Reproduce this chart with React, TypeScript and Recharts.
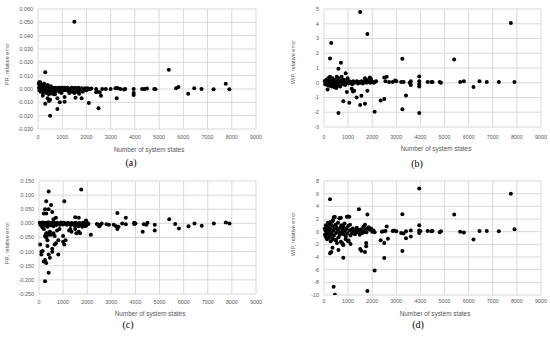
import { ScatterChart, Scatter, XAxis, YAxis, CartesianGrid } from "recharts";

type Pt = [number, number];

const statesTicks = [0, 1000, 2000, 3000, 4000, 5000, 6000, 7000, 8000, 9000];
const prTicksA = [-0.03, -0.02, -0.01, 0, 0.01, 0.02, 0.03, 0.04, 0.05, 0.06];
const wipTicksB = [-3, -2, -1, 0, 1, 2, 3, 4, 5];
const prTicksC = [-0.25, -0.2, -0.15, -0.1, -0.05, 0, 0.05, 0.1, 0.15];
const wipTicksD = [-10, -8, -6, -4, -2, 0, 2, 4, 6, 8];

// (a) PR relative error vs number of states
const prErrA: Pt[] = [
  [30, 0.004], [40, 0.001], [60, -0.001], [70, 0.003], [90, 0.005], [100, 0.002], [110, -0.002], [130, 0.001],
  [150, 0.003], [160, -0.001], [180, 0.0], [200, 0.002], [210, -0.003], [230, 0.001], [250, -0.001], [270, 0.0],
  [290, -0.002], [310, 0.002], [330, 0.0], [350, -0.003], [370, 0.001], [390, 0.003], [410, -0.001], [430, 0.002],
  [450, -0.004], [470, 0.0], [490, 0.001], [510, -0.002], [530, 0.002], [560, -0.003], [580, 0.0], [600, 0.001],
  [630, -0.001], [660, 0.0], [680, -0.004], [700, 0.001], [730, -0.002], [760, 0.0], [790, -0.001], [820, 0.001],
  [850, 0.0], [880, -0.002], [910, 0.001], [940, 0.0], [970, -0.003], [1000, 0.001], [1030, 0.0], [1060, -0.001],
  [1090, 0.001], [1130, 0.0], [1170, -0.001], [1210, 0.001], [1250, 0.0], [1290, -0.003], [1330, 0.0], [1380, 0.001],
  [1420, -0.001], [1470, 0.0], [1530, 0.001], [1580, -0.002], [1620, 0.0], [1670, 0.001], [1720, -0.001], [1760, 0.0],
  [1800, 0.0005], [1850, -0.002], [1900, 0.0], [1950, 0.0005], [2000, -0.001], [2050, 0.0005], [2150, 0.0], [2200, 0.0003],
  [50, 0.005], [100, 0.004], [200, -0.005], [250, 0.004], [300, 0.0125], [300, -0.011], [400, -0.007], [450, -0.009],
  [500, -0.02], [500, -0.008], [600, -0.0035], [700, -0.004], [800, -0.015], [800, -0.007], [900, -0.01], [1000, -0.001],
  [1100, -0.0095], [1100, -0.006], [1250, -0.001], [1300, -0.002], [1400, -0.002], [1450, 0.0005], [1500, 0.0505],
  [1500, -0.003], [1550, -0.0065], [1650, -0.002], [1700, -0.0035], [1750, -0.001], [1800, -0.007], [2000, 0.0],
  [2100, -0.0105], [2100, 0.0], [2400, 0.0], [2400, -0.0025], [2450, -0.002], [2500, -0.0145], [2550, -0.0025],
  [2600, -0.005], [2650, 0.0], [2800, 0.0], [3000, 0.0], [3200, 0.0005], [3250, 0.0005], [3250, -0.007], [3300, 0.0005],
  [3400, 0.0], [3550, -0.0003], [3600, 0.0], [3950, 0.0], [3950, -0.003], [3950, -0.0045], [4300, 0.0], [4400, 0.0],
  [4500, 0.0003], [4800, 0.0], [4850, -0.0001], [5400, 0.0145], [5700, 0.0005], [5800, 0.0015], [6200, -0.0035],
  [6450, 0.0005], [6750, 0.0], [7250, -0.0002], [7750, 0.004], [7900, -0.0002],
];

// (b) WIP relative error vs number of states
const wipErrB: Pt[] = [
  [30, 0.1], [50, -0.1], [70, 0.15], [90, 0.0], [110, 0.2], [130, -0.15], [150, 0.05], [170, 0.3], [190, -0.2],
  [210, 0.1], [230, 0.0], [250, 0.4], [270, -0.1], [290, 0.15], [310, -0.25], [330, 0.05], [350, 0.3], [370, -0.15],
  [390, 0.1], [410, 0.0], [430, -0.3], [450, 0.2], [470, -0.1], [490, 0.05], [510, -0.35], [530, 0.4], [550, -0.2],
  [570, 0.1], [590, 0.3], [610, -0.1], [640, 0.05], [670, -0.25], [700, 0.15], [730, 0.4], [760, 0.0], [790, -0.1],
  [820, 0.2], [850, 0.05], [880, -0.15], [910, 0.1], [950, 0.0], [980, 0.3], [1010, -0.05], [1050, 0.1], [1090, 0.0],
  [1130, 0.05], [1170, -0.1], [1210, 0.1], [1260, 0.0], [1310, 0.05], [1360, 0.1], [1410, -0.05], [1460, 0.05],
  [1510, 0.0], [1560, 0.1], [1610, -0.05], [1660, 0.05], [1710, 0.15], [1760, 0.0], [1810, 0.1], [1860, 0.2],
  [1910, 0.0], [1960, 0.1], [2010, 0.05], [2060, 0.0], [2110, 0.05], [2160, 0.1],
  [150, -0.45], [250, 1.65], [300, 2.7], [600, 0.95], [600, -2.05], [700, 1.35], [800, -1.25], [900, 0.65],
  [950, -0.63], [1050, -1.35], [1150, -0.4], [1200, -0.6], [1250, -0.55], [1350, -1.0], [1500, 4.8], [1500, -1.5],
  [1550, -0.88], [1700, -1.42], [1700, 0.3], [1750, 0.2], [1800, 3.3], [1800, -0.54], [1900, 0.35], [1950, 0.25],
  [2100, -1.96], [2350, -1.2], [2500, -1.1], [2500, 0.35], [2550, 0.1], [2600, 0.4], [2700, 0.05], [2850, 0.05],
  [2950, 0.15], [3000, 0.1], [3200, 0.05], [3250, 1.63], [3250, -1.8], [3300, 0.05], [3400, -0.86], [3550, 0.0],
  [3600, 0.1], [3600, -0.15], [3950, 0.43], [3950, 0.1], [3950, -0.1], [3950, -0.25], [3950, -2.05], [4300, 0.05],
  [4450, 0.05], [4500, 0.05], [4800, 0.05], [4850, 0.0], [5400, 1.58], [5650, 0.05], [5800, 0.1], [6200, -0.29],
  [6450, 0.1], [6750, 0.05], [7250, 0.05], [7750, 4.05], [7900, 0.05],
];

// (c) PR relative error, second set
const prErrC: Pt[] = [
  [30, 0.002], [60, -0.005], [90, 0.0], [120, -0.01], [150, 0.003], [180, -0.003], [210, 0.0], [240, -0.008],
  [270, 0.002], [300, -0.002], [330, 0.0], [360, -0.012], [390, 0.004], [420, -0.004], [450, 0.0], [480, -0.007],
  [510, 0.002], [540, -0.002], [570, 0.0], [600, -0.01], [630, 0.003], [660, -0.004], [690, 0.0], [720, -0.006],
  [750, 0.002], [790, -0.002], [830, 0.0], [870, -0.005], [910, 0.003], [950, 0.0], [990, -0.004], [1030, 0.002],
  [1070, -0.002], [1110, 0.0], [1150, -0.005], [1190, 0.001], [1230, -0.002], [1270, 0.0], [1310, -0.006],
  [1350, 0.001], [1390, -0.003], [1430, 0.0], [1470, -0.008], [1510, 0.002], [1550, -0.004], [1590, 0.0],
  [1630, -0.01], [1670, 0.001], [1710, -0.005], [1750, 0.0], [1790, -0.012], [1830, 0.002], [1870, -0.003],
  [1910, 0.0], [1950, -0.008], [2000, 0.002], [2050, -0.002],
  [50, -0.075], [100, -0.11], [100, -0.1], [150, -0.098], [150, -0.015], [200, -0.135], [200, -0.02], [200, 0.035],
  [250, -0.205], [250, -0.13], [250, 0.05], [250, -0.045], [300, -0.14], [300, 0.078], [300, -0.05], [300, -0.035],
  [300, 0.035], [350, -0.08], [350, -0.06], [350, -0.035], [400, 0.113], [400, 0.05], [400, -0.11], [400, -0.175],
  [400, -0.04], [450, -0.122], [450, -0.03], [500, 0.065], [500, -0.04], [550, 0.04], [550, -0.09], [550, -0.1],
  [600, 0.015], [600, -0.035], [650, -0.075], [650, -0.045], [700, 0.02], [700, -0.07], [750, -0.025], [800, -0.11],
  [800, -0.06], [850, -0.02], [1000, -0.065], [1000, -0.045], [1050, 0.078], [1050, -0.075], [1100, -0.06],
  [1250, -0.025], [1300, -0.02], [1350, -0.03], [1500, 0.022], [1500, -0.02], [1550, -0.035], [1650, 0.02],
  [1650, -0.03], [1700, -0.035], [1750, 0.12], [1900, -0.01], [1950, 0.01], [2150, -0.04],
  [2400, -0.002], [2450, -0.005], [2500, -0.01], [2550, -0.005], [2600, 0.0], [2800, -0.003], [2900, -0.005],
  [3100, -0.005], [3200, -0.01], [3250, 0.037], [3250, -0.02], [3300, -0.012], [3450, 0.0], [3600, 0.02],
  [3600, -0.003], [3950, 0.002], [4000, 0.0], [3950, -0.002], [4300, -0.03], [4350, -0.003], [4450, -0.005],
  [4500, 0.002], [4800, -0.005], [4800, -0.025], [5400, 0.015], [5650, -0.002], [5800, -0.018], [6200, -0.01],
  [6450, 0.0], [6750, -0.008], [7250, 0.0], [7750, 0.003], [7900, 0.0],
];

// (d) WIP relative error, second set
const wipErrD: Pt[] = [
  [30, 0.5], [40, -0.5], [60, 0.2], [70, -0.8], [80, 1.0], [100, -0.2], [110, 0.6], [130, -1.2], [140, 0.3],
  [160, 1.4], [170, -0.4], [190, 0.8], [200, -1.0], [220, 0.1], [230, 1.2], [250, -0.7], [260, 0.4], [280, -1.5],
  [290, 1.5], [310, 0.0], [320, -0.3], [340, 0.9], [360, -1.1], [370, 1.8], [390, 0.2], [410, -0.6], [420, 2.3],
  [440, 0.5], [460, -1.3], [480, 1.1], [500, -0.2], [520, 0.7], [540, -1.8], [560, 0.3], [580, 1.4], [600, -0.9],
  [620, 0.0], [640, 2.1], [660, -0.5], [680, 0.6], [700, -1.6], [720, 1.0], [740, -0.1], [760, 0.4], [780, -2.0],
  [800, 0.8], [820, -0.4], [850, 1.3], [870, 0.1], [900, -0.8], [920, 0.5], [950, 2.35], [970, -0.3], [1000, 0.9],
  [1020, -1.4], [1050, 0.2], [1080, 1.1], [1100, -0.6], [1130, 0.3], [1160, -0.2], [1200, 0.5], [1240, 0.0],
  [1280, -0.4], [1320, 0.2], [1360, 0.6], [1400, -0.1], [1440, 0.3], [1480, -0.5], [1520, 0.1], [1560, 0.4],
  [1600, -0.2], [1640, 0.8], [1680, 0.0], [1720, 0.3], [1760, -0.1], [1800, 0.5], [1850, 0.7], [1900, 0.3],
  [1950, 0.5], [2000, 0.0], [2050, 0.2], [2100, -0.1],
  [250, 5.1], [250, 1.5], [250, -3.4], [300, -3.2], [350, 1.6], [350, -2.55], [400, 2.2], [400, -8.7], [450, 2.3],
  [450, -9.95], [500, -1.3], [600, -2.9], [650, 2.1], [700, 2.2], [750, -1.8], [800, -4.1], [800, -2.1], [900, -1.2],
  [1000, 2.4], [1000, -1.5], [1050, 2.35], [1100, -1.95], [1450, 3.55], [1500, -2.75], [1550, -3.0], [1650, 0.8],
  [1700, 1.1], [1700, -3.2], [1750, -2.3], [1750, -1.8], [1800, 2.7], [1800, -9.35], [2100, -6.15],
  [2350, -1.35], [2400, 0.0], [2450, 0.05], [2500, -1.8], [2500, -4.15], [2550, 0.1], [2600, 0.8], [2650, -1.1],
  [2850, 0.1], [2900, 0.2], [3000, 0.05], [3200, -0.2], [3250, 2.75], [3250, -3.05], [3300, -0.3], [3400, 0.05],
  [3400, -1.05], [3600, 0.2], [3600, -0.75], [3950, 6.8], [3950, 1.0], [3950, 0.2], [3950, -0.2], [4000, 0.1],
  [4300, 0.1], [4450, 0.05], [4500, 0.1], [4800, -0.1], [4850, 0.05], [5400, 2.7], [5650, 0.0], [5800, -0.15],
  [6200, -1.25], [6450, 0.1], [6750, 0.1], [7250, 0.05], [7750, 6.0], [7900, 0.4],
];

const font = "'Liberation Sans', Arial, sans-serif";
const textGray = "#595959";

const fmt3 = (v: number) => v.toFixed(3);
const fmt0 = (v: number) => String(v);

const Dot = (p: any) => <circle cx={p.cx} cy={p.cy} r={2} fill="#000" />;

function Panel(props: any) {
  const { left, top, h, right, bottom, yw, gap, pts, ticks, fmt, yTitle, yt, xt, letter, lt } = props;
  const data = pts.map(([x, y]: Pt) => ({ x, y }));
  return (
    <>
      <div style={{ position: "absolute", left, top }}>
        <ScatterChart width={275} height={h} margin={{ top: 9, right, bottom, left: 0 }}>
          <CartesianGrid stroke="#d9d9d9" />
          <XAxis
            type="number"
            dataKey="x"
            domain={[0, 9000]}
            ticks={statesTicks}
            interval={0}
            axisLine={false}
            tickLine={false}
            tickSize={0}
            tickMargin={gap}
            height={20}
            tick={{ fontSize: 5.4, fill: textGray, fontFamily: font }}
          />
          <YAxis
            type="number"
            dataKey="y"
            domain={[ticks[0], ticks[ticks.length - 1]]}
            ticks={ticks}
            interval={0}
            allowDataOverflow
            axisLine={false}
            tickLine={false}
            tickSize={0}
            tickMargin={5}
            width={yw}
            tickFormatter={fmt}
            tick={{ fontSize: 5.4, fill: textGray, fontFamily: font }}
          />
          <Scatter data={data} fill="#000" shape={Dot} isAnimationActive={false} />
        </ScatterChart>
      </div>
      <div
        style={{
          position: "absolute", left: yt[0], top: yt[1], transform: "translate(-50%, -50%) rotate(-90deg)",
          fontFamily: font, fontSize: 5.6, color: textGray, whiteSpace: "nowrap", lineHeight: 1,
        }}
      >
        {yTitle}
      </div>
      <div
        style={{
          position: "absolute", left: xt[0], top: xt[1], transform: "translate(-50%, -50%)",
          fontFamily: font, fontSize: 6.4, color: textGray, whiteSpace: "nowrap", lineHeight: 1,
        }}
      >
        Number of system states
      </div>
      <div
        style={{
          position: "absolute", left: lt[0], top: lt[1], transform: "translate(-50%, -50%)",
          fontFamily: "'Liberation Serif', 'DejaVu Serif', serif", fontSize: 10, color: "#000", whiteSpace: "nowrap", lineHeight: 1,
        }}
      >
        {letter}
      </div>
    </>
  );
}

export default function App() {
  return (
    <div style={{ position: "absolute", left: 0, top: 0, width: 550, height: 347, background: "#fff", overflow: "hidden" }}>
      <Panel left={0} top={0} h={172} right={19} bottom={23} yw={38} gap={6} pts={prErrA} ticks={prTicksA} fmt={fmt3}
        yTitle="PR, relative error" yt={[8, 64]} xt={[149, 150]} letter="(a)" lt={[131, 163]} />
      <Panel left={275} top={0} h={172} right={9} bottom={25} yw={49} gap={8} pts={wipErrB} ticks={wipTicksB} fmt={fmt0}
        yTitle="WIP, relative error" yt={[294, 62]} xt={[436, 149]} letter="(b)" lt={[417, 164]} />
      <Panel left={0} top={172} h={175} right={19} bottom={33} yw={39} gap={6} pts={prErrC} ticks={prTicksC} fmt={fmt3}
        yTitle="PR, relative error" yt={[8, 243]} xt={[150, 314]} letter="(c)" lt={[128, 325]} />
      <Panel left={275} top={172} h={175} right={9} bottom={32} yw={49} gap={4} pts={wipErrD} ticks={wipTicksD} fmt={fmt0}
        yTitle="WIP, relative error" yt={[294, 234]} xt={[435, 314]} letter="(d)" lt={[418, 325]} />
    </div>
  );
}
